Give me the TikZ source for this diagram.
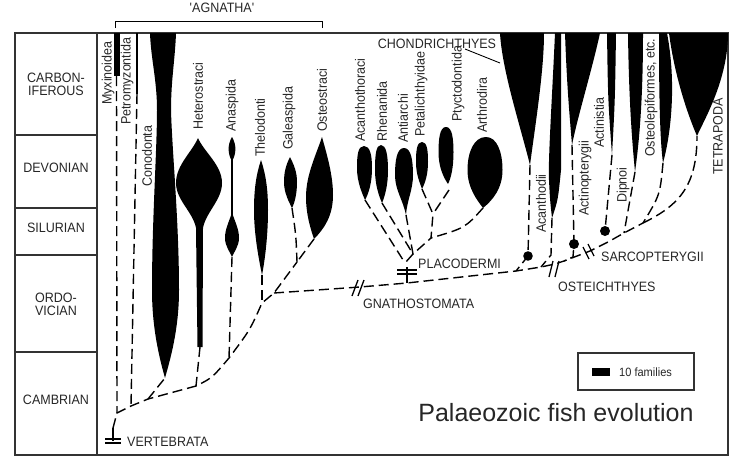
\documentclass[tikz,border=0pt]{standalone}
\usepackage{fontspec}
\setmainfont{Liberation Sans}[FakeStretch=0.92]
\newfontfamily\titlefont{Liberation Sans}
\usetikzlibrary{positioning}

\newcommand{\lab}{\fontsize{13.6}{13.2}\selectfont}

\begin{document}
\begin{tikzpicture}[x=1pt,y=1pt]
\tikzstyle{every node}+=[inner sep=0pt, font=\lab, text=black!85]
\tikzstyle{lineage}=[line width=1.4pt, dash pattern=on 10pt off 5pt]
\tikzstyle{taxon}=[rotate=90, anchor=west]
\tikzstyle{clade}=[anchor=west]
\tikzstyle{frame}=[line width=1.2pt, black!80]
\tikzstyle{tick}=[line width=1.3pt]
\useasboundingbox (0,0) rectangle (755,-466);

% time scale
\draw [frame] (15,-33) -- (728,-33) -- (728,-455) -- (15,-455) -- cycle;
\draw [frame] (97,-33) -- (97,-455);
\draw [frame] (15,-135) -- (97,-135);
\draw [frame] (15,-208) -- (97,-208);
\draw [frame] (15,-255) -- (97,-255);
\draw [frame] (15,-352) -- (97,-352);
\node [align=center] (carb) at (56,-84) {CARBON-\\IFEROUS};
\node (devo) at (56,-168) {DEVONIAN};
\node (silu) at (56,-228) {SILURIAN};
\node [align=center] (ordo) at (56,-304) {ORDO-\\VICIAN};
\node (camb) at (56,-400) {CAMBRIAN};

% 'Agnatha' bracket
\node (agn) at (222,-8) {\textquotesingle AGNATHA\textquotesingle};
\draw [tick, line width=1pt] (115,-28) -- (115,-21) -- (322,-21) -- (322,-28);

% agnathans
\fill (113.5,-33) rectangle (120,-76);
\fill (135.8,-33) rectangle (138.3,-94);
\fill (150,-33) .. controls (151,-60) and (157,-80) .. (157,-110) .. controls (157,-150) and (152,-220) .. (152,-290) .. controls (152,-330) and (160,-360) .. (165,-378) .. controls (170,-360) and (179,-330) .. (179,-290) .. controls (179,-220) and (172,-150) .. (171,-110) .. controls (171,-80) and (175,-60) .. (176,-33) -- cycle;
\fill (198,-138) .. controls (192,-152) and (176,-165) .. (176,-183) .. controls (176,-200) and (193,-212) .. (196,-228) -- (197.5,-347) -- (202.5,-347) -- (203,-228) .. controls (206,-212) and (222,-200) .. (222,-183) .. controls (222,-165) and (204,-152) .. (198,-138) -- cycle;
\fill (232,-137) .. controls (227,-145) and (228,-155) .. (232,-161) .. controls (236,-155) and (237,-145) .. (232,-137) -- cycle;
\fill (231.2,-158) rectangle (233,-215);
\fill (232,-212) .. controls (230,-220) and (225,-228) .. (225,-238) .. controls (225,-246) and (230,-252) .. (232,-257) .. controls (234,-252) and (239,-246) .. (239,-238) .. controls (239,-228) and (234,-220) .. (232,-212) -- cycle;
\fill (261,-160) .. controls (256,-175) and (254,-190) .. (254,-210) .. controls (254,-235) and (259,-260) .. (262,-275) .. controls (265,-260) and (268,-235) .. (268,-210) .. controls (268,-190) and (266,-175) .. (261,-160) -- cycle;
\fill (290,-157) .. controls (286,-165) and (284,-172) .. (284,-182) .. controls (284,-193) and (289,-202) .. (292,-208) .. controls (295,-202) and (297,-193) .. (297,-182) .. controls (297,-172) and (294,-165) .. (290,-157) -- cycle;
\fill (322,-137) .. controls (316,-155) and (306,-175) .. (306,-197) .. controls (306,-215) and (311,-230) .. (314,-239) .. controls (325,-228) and (333,-215) .. (333,-195) .. controls (333,-175) and (327,-155) .. (322,-137) -- cycle;

% placoderms
\fill (364,-146) .. controls (358,-146) and (357,-155) .. (357,-168) .. controls (357,-182) and (362,-193) .. (365,-200) .. controls (369,-193) and (372,-182) .. (372,-168) .. controls (372,-155) and (370,-146) .. (364,-146) -- cycle;
\fill (381,-145) .. controls (376,-145) and (375,-155) .. (375,-170) .. controls (375,-185) and (379,-196) .. (382,-203) .. controls (385,-196) and (388,-185) .. (388,-170) .. controls (388,-155) and (386,-145) .. (381,-145) -- cycle;
\fill (404,-148) .. controls (397,-148) and (395,-160) .. (395,-175) .. controls (395,-190) and (403,-200) .. (406,-215) .. controls (407,-200) and (413,-190) .. (413,-175) .. controls (413,-160) and (411,-148) .. (404,-148) -- cycle;
\fill (422,-142) .. controls (417,-142) and (416,-150) .. (416,-162) .. controls (416,-175) and (420,-183) .. (422,-189) .. controls (425,-183) and (428,-175) .. (428,-162) .. controls (428,-150) and (427,-142) .. (422,-142) -- cycle;
\fill (446,-127) .. controls (440,-127) and (438.5,-138) .. (438.5,-152) .. controls (438.5,-168) and (444,-178) .. (448,-184) .. controls (451,-178) and (453.5,-168) .. (453.5,-152) .. controls (453.5,-138) and (452,-127) .. (446,-127) -- cycle;
\fill (486,-137) .. controls (474,-137) and (467.5,-152) .. (467.5,-170) .. controls (467.5,-188) and (477,-200) .. (483,-208) .. controls (493,-200) and (502.5,-188) .. (502.5,-170) .. controls (502.5,-152) and (497,-137) .. (486,-137) -- cycle;

% gnathostomes with living members
\fill (500,-33) .. controls (502,-70) and (520,-125) .. (530,-165) .. controls (536,-120) and (544,-70) .. (544,-33) -- cycle;
\fill (555,-33) .. controls (552,-100) and (548,-160) .. (549,-180) .. controls (550,-200) .. (552,-218) .. controls (558,-200) .. (561,-170) -- (561,-33) -- cycle;
\fill (565,-33) .. controls (567,-90) and (570,-120) .. (572,-145) .. controls (578,-115) and (592,-70) .. (600,-33) -- cycle;
\fill (607,-33) .. controls (608,-100) .. (612,-155) .. controls (615,-100) .. (616,-33) -- cycle;
\fill (628,-33) .. controls (629,-110) and (633,-150) .. (635,-172) .. controls (638,-150) and (643,-110) .. (643,-33) -- cycle;
\fill (659,-33) .. controls (659,-100) and (660,-140) .. (663,-163) .. controls (672,-130) and (676,-80) .. (667,-33) -- cycle;
\fill (669,-33) .. controls (675,-80) and (690,-120) .. (697,-136) .. controls (704,-120) and (728,-80) .. (728,-33) -- cycle;

% ends of the lineages
\coordinate (myx) at (116.5,-76);
\coordinate (pet) at (137,-94);
\coordinate (con) at (165,-378);
\coordinate (het) at (200,-347);
\coordinate (ana) at (232,-257);
\coordinate (the) at (262,-275);
\coordinate (gal) at (292,-208);
\coordinate (ost) at (314,-239);
\coordinate (aca) at (365,-200);
\coordinate (rhe) at (382,-203);
\coordinate (ant) at (406,-215);
\coordinate (pta) at (422,-189);
\coordinate (pty) at (449,-190);
\coordinate (art) at (483,-208);
\coordinate (cho) at (530,-165);
\coordinate (acd) at (552,-218);
\coordinate (apt) at (572,-145);
\coordinate (ati) at (612,-155);
\coordinate (dip) at (635,-172);
\coordinate (otl) at (663,-163);
\coordinate (tet) at (697,-136);

% branching points
\coordinate (v) at (113,-441);
\coordinate (vtop) at (113,-428);
\coordinate (a1) at (117,-413);
\coordinate (a2) at (131,-406);
\coordinate (a3) at (148,-399);
\coordinate (a4) at (196,-386);
\coordinate (a5) at (229,-358);
\coordinate (a6) at (262,-303);
\coordinate (a7) at (274,-293);
\coordinate (g1) at (297,-262);
\coordinate (gn) at (360,-287);
\coordinate (p1) at (407,-283);
\coordinate (ptk) at (407,-267);
\coordinate (p0) at (405,-263);
\coordinate (pj1) at (413,-254);
\coordinate (pj2) at (431,-238);
\coordinate (pj3) at (433,-214);
\coordinate (c1) at (516,-271);
\coordinate (c2) at (541,-267);
\coordinate (os) at (555,-264);
\coordinate (c3) at (564,-261);
\coordinate (sa) at (590,-251);
\coordinate (c4) at (608,-242);
\coordinate (d1) at (624,-233);
\coordinate (e1) at (643,-223);
\coordinate (chd) at (528,-256);
\coordinate (apd) at (574,-244);
\coordinate (apc) at (573,-257);
\coordinate (acc) at (551,-255);
\coordinate (atd) at (605,-231);

% lineages
\draw [lineage] (myx) -- (a1);
\draw [lineage] (vtop) -- (a1) -- (a2) -- (a3) -- (a4) .. controls (212,-378) .. (a5) .. controls (250,-330) .. (a6) -- (a7) -- (g1);
\draw [lineage] (pet) -- (a2);
\draw [lineage] (a3) -- (con);
\draw [lineage] (het) -- (a4);
\draw [lineage] (ana) -- (a5);
\draw [lineage] (the) -- (a6);
\draw [lineage] (gal) .. controls (296,-235) .. (g1);
\draw [lineage] (ost) -- (g1);
\draw [lineage] (a7) -- (gn) -- (p1) -- (c1) -- (c2) -- (os) -- (c3) -- (sa) -- (c4) -- (d1) -- (e1);
\draw [lineage] (e1) .. controls (680,-205) and (697,-185) .. (tet);
\draw [lineage] (otl) .. controls (660,-195) .. (e1);
\draw [lineage] (dip) -- (d1);
\draw [lineage] (ati) -- (atd);
\draw [lineage] (apt) -- (apd) -- (apc) -- (c3);
\draw [lineage] (acd) -- (acc) -- (c2);
\draw [lineage] (cho) -- (chd) -- (c1);
\draw [lineage] (aca) -- (p0);
\draw [lineage] (rhe) -- (pj1);
\draw [lineage] (ant) -- (pj1);
\draw [lineage] (pj1) -- (p0);
\draw [lineage] (pta) -- (pj3) -- (pj2) -- (pj1);
\draw [lineage] (pty) -- (pj3);
\draw [lineage] (art) .. controls (465,-228) .. (pj2);
\fill (chd) circle (4.8);
\fill (apd) circle (5);
\fill (atd) circle (5);

% clade marks
\draw [tick] (v) -- (vtop);
\draw [tick] (105,-439) -- (121,-439) (105,-443) -- (121,-443);
\draw [tick] (p1) -- (ptk);
\draw [tick] (397,-270) -- (417,-270) (397,-274) -- (417,-274);
\draw [tick] (352,-296) -- (358,-280) (358,-296) -- (364,-280);
\draw [tick] (549,-277) -- (553,-261) (555,-277) -- (559,-261);
\draw [tick] (583,-247) -- (589,-259) (588,-244) -- (594,-256);

% names
\node [taxon] (myxl) at (108,-105) {Myxinoidea};
\node [taxon] (petl) at (127,-125) {Petromyzontida};
\node [taxon] (conl) at (147,-187) {Conodonta};
\node [taxon] (hetl) at (198,-130) {Heterostraci};
\node [taxon] (anal) at (232,-132) {Anaspida};
\node [taxon] (thel) at (260,-157) {Thelodonti};
\node [taxon] (gall) at (289,-150) {Galeaspida};
\node [taxon] (ostl) at (322,-132) {Osteostraci};
\node [taxon] (acal) at (360,-142) {Acanthothoraci};
\node [taxon] (rhel) at (382,-142) {Rhenanida};
\node [taxon] (antl) at (403,-143) {Antiarchi};
\node [taxon] (ptal) at (421,-137) {Petalichthyidae};
\node [taxon] (ptyl) at (458,-122) {Ptyctodontida};
\node [taxon] (artl) at (482,-133) {Arthrodira};
\node [taxon] (acdl) at (541,-233) {Acanthodii};
\node [taxon] (aptl) at (585,-216) {Actinopterygii};
\node [taxon] (atil) at (599,-148) {Actinistia};
\node [taxon] (dipl) at (623,-203) {Dipnoi};
\node [taxon] (otll) at (651,-157) {Osteolepiformes, etc.};
\node [taxon] (tetl) at (718,-175) {TETRAPODA};
\node (chol) at (437,-44) {CHONDRICHTHYES};
\draw [line width=0.9pt] ([xshift=28pt]chol.south) -- (500,-63);
\node [clade] (placl) at (418,-264) {PLACODERMI};
\node [clade] (gnal) at (363,-304) {GNATHOSTOMATA};
\node [clade] (ostel) at (558,-287) {OSTEICHTHYES};
\node [clade] (sarl) at (601,-257) {SARCOPTERYGII};
\node [clade] (verl) at (127,-442) {VERTEBRATA};

% key and title
\node [draw=black!80, line width=1.1pt, minimum width=116pt, minimum height=37pt] (key) at (636,-371.5) {};
\fill (592,-368) rectangle (610,-376);
\node [clade, font=\fontsize{12}{13}\selectfont] (fam) at (619,-372) {10 families};
\node (title) at (556,-413) {\titlefont\fontsize{25}{28}\selectfont Palaeozoic fish evolution};
\end{tikzpicture}
\end{document}
